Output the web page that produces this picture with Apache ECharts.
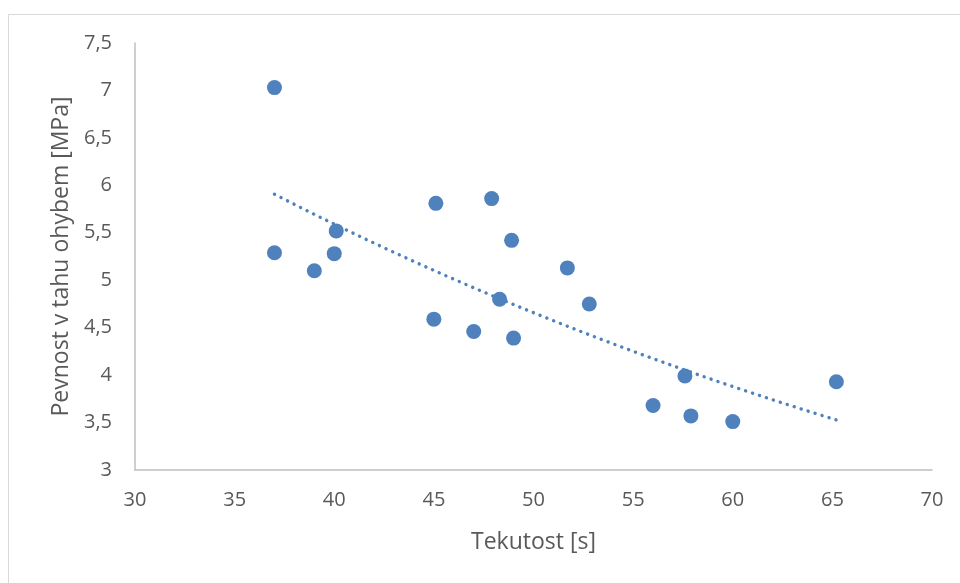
<!DOCTYPE html>
<html>
<head>
<meta charset="utf-8">
<script src="https://cdn.jsdelivr.net/npm/echarts@6/dist/echarts.min.js"></script>
<style>
  html, body { margin: 0; padding: 0; background: #fff; }
  #chart { width: 960px; height: 583px; }
</style>
</head>
<body>
<div id="chart"></div>
<script>
// Flowability (s) vs. flexural tensile strength (MPa)
const tekutost = [37, 37, 39, 40, 40.1, 45, 45.1, 47, 47.9, 48.3, 48.9, 49, 51.7, 52.8, 56, 57.6, 57.9, 60, 65.2];
const pevnost  = [7.03, 5.29, 5.10, 5.28, 5.52, 4.59, 5.81, 4.46, 5.86, 4.80, 5.42, 4.39, 5.13, 4.75, 3.68, 3.99, 3.57, 3.51, 3.93];

const xTicks = { min: 30, max: 70, step: 5 };
const yTicks = { min: 3, max: 7.5, step: 0.5 };

// Exponential trendline y = A * e^(B x), least squares on ln(y)
function expFit(xs, ys) {
  const n = xs.length;
  let sx = 0, sy = 0, sxx = 0, sxy = 0;
  for (let i = 0; i < n; i++) {
    const ly = Math.log(ys[i]);
    sx += xs[i]; sy += ly; sxx += xs[i] * xs[i]; sxy += xs[i] * ly;
  }
  const B = (n * sxy - sx * sy) / (n * sxx - sx * sx);
  const A = Math.exp((sy - B * sx) / n);
  return x => A * Math.exp(B * x);
}
const trend = expFit(tekutost, pevnost);
const xLo = Math.min(...tekutost), xHi = Math.max(...tekutost);
const trendPts = [];
for (let i = 0; i <= 60; i++) {
  const x = xLo + (xHi - xLo) * i / 60;
  trendPts.push([x, trend(x)]);
}

const points = tekutost.map((x, i) => [x, pevnost[i]]);
const FONT = '"Open Sans"';
const TXT = '#595959';
const AXIS = '#bfbfbf';
const BLUE = '#4f81bd';

const chart = echarts.init(document.getElementById('chart'), null, { renderer: 'canvas' });
chart.setOption({
  animation: false,
  backgroundColor: '#fff',
  graphic: [{
    type: 'rect',
    shape: { x: 8.5, y: 14.5, width: 1000, height: 700 },
    style: { fill: 'none', stroke: '#d9d9d9', lineWidth: 1 },
    silent: true
  }],
  grid: { left: 135, right: 28, top: 43, bottom: 113 },
  xAxis: {
    type: 'value',
    min: xTicks.min, max: xTicks.max, interval: xTicks.step,
    name: 'Tekutost [s]',
    nameLocation: 'middle',
    nameGap: 61,
    nameTextStyle: { fontFamily: FONT, fontSize: 23, color: TXT },
    axisLine: { lineStyle: { color: AXIS, width: 1.5 } },
    axisTick: { show: false },
    splitLine: { show: false },
    axisLabel: { fontFamily: FONT, fontSize: 20, color: TXT, margin: 20 }
  },
  yAxis: {
    type: 'value',
    min: yTicks.min, max: yTicks.max, interval: yTicks.step,
    name: 'Pevnost v tahu ohybem [MPa]',
    nameLocation: 'middle',
    nameGap: 61,
    nameRotate: 90,
    nameTextStyle: { fontFamily: FONT, fontSize: 23, color: TXT },
    axisLine: { show: true, lineStyle: { color: AXIS, width: 1.5 } },
    axisTick: { show: false },
    splitLine: { show: false },
    axisLabel: {
      fontFamily: FONT, fontSize: 20, color: TXT, margin: 23,
      formatter: v => String(v).replace('.', ',')
    }
  },
  series: [
    {
      type: 'line',
      data: trendPts,
      showSymbol: false,
      smooth: false,
      lineStyle: { color: BLUE, width: 3.4, type: [0.1, 7.2], cap: 'round' },
      z: 2
    },
    {
      type: 'scatter',
      data: points,
      symbolSize: 15,
      itemStyle: { color: BLUE, opacity: 1 },
      z: 3
    }
  ]
});
</script>
</body>
</html>
